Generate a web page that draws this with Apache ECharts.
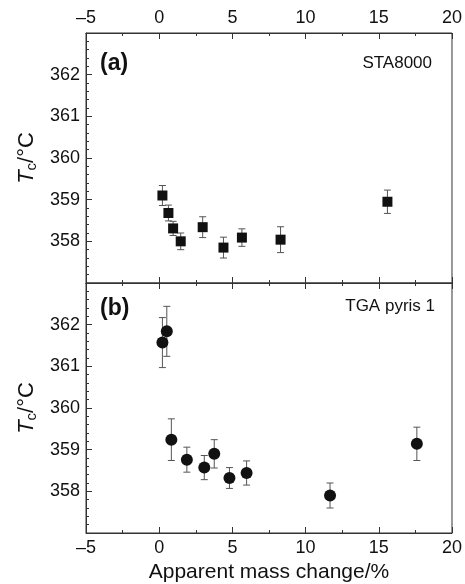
<!DOCTYPE html>
<html>
<head>
<meta charset="utf-8">
<style>
    html, body { margin: 0; padding: 0; background: #fff; }
    #chart { width: 465px; height: 584px; }
</style>
<script src="https://cdn.jsdelivr.net/npm/echarts@6/dist/echarts.min.js"></script>
</head>
<body>
<div id="chart"></div>
<script>
    // (a) STA8000
    var aMass = [0.22, 0.63, 0.95, 1.47, 2.97, 4.39, 5.65, 8.29, 15.59];
    var aTc = [359.10, 358.68, 358.31, 358.00, 358.34, 357.85, 358.09, 358.04, 358.95];
    var aErr = [0.24, 0.19, 0.17, 0.20, 0.25, 0.25, 0.21, 0.31, 0.28];
    // (b) TGA pyris 1
    var bMass = [0.22, 0.52, 0.83, 1.89, 3.08, 3.76, 4.80, 5.97, 11.67, 17.60];
    var bTc = [361.57, 361.84, 359.24, 358.76, 358.57, 358.90, 358.32, 358.44, 357.90, 359.14];
    var bErr = [0.60, 0.60, 0.50, 0.30, 0.29, 0.34, 0.25, 0.29, 0.30, 0.40];

    var xTicks = [-5, 0, 5, 10, 15, 20];
    var yTicks = [358, 359, 360, 361, 362];

    var font = 'Liberation Sans, Arial, sans-serif';
    var frame = '#333';

    function pts(xs, ys, es) {
        return xs.map(function (x, i) { return [x, ys[i], es ? es[i] : 0]; });
    }

    // 误差棒
    function errorBar(params, api) {
        var x = api.value(0), y = api.value(1), e = api.value(2);
        var hi = api.coord([x, y + e]);
        var lo = api.coord([x, y - e]);
        var w = 3.5;
        var st = { stroke: '#555', lineWidth: 1 };
        return {
            type: 'group',
            children: [
                { type: 'line', shape: { x1: hi[0], y1: hi[1], x2: lo[0], y2: lo[1] }, style: st },
                { type: 'line', shape: { x1: hi[0] - w, y1: hi[1], x2: hi[0] + w, y2: hi[1] }, style: st },
                { type: 'line', shape: { x1: lo[0] - w, y1: lo[1], x2: lo[0] + w, y2: lo[1] }, style: st }
            ]
        };
    }

    function xAxis(grid, pos, labels, name) {
        return {
            type: 'value', gridIndex: grid, position: pos,
            min: xTicks[0], max: xTicks[xTicks.length - 1], interval: 5,
            axisLine: { show: true, onZero: false, lineStyle: { color: frame, width: 1 } },
            axisTick: { show: true, inside: true, length: 6, lineStyle: { color: frame } },
            minorTick: { show: true, splitNumber: 2, length: 3, lineStyle: { color: frame } },
            splitLine: { show: false },
            axisLabel: {
                show: labels, margin: 6, color: '#111', fontSize: 18, fontFamily: font,
                formatter: function (v) { return String(v).replace('-', '\u2013'); }
            },
            name: name || '', nameLocation: 'middle', nameGap: 29,
            nameTextStyle: { color: '#111', fontSize: 21, fontFamily: font }
        };
    }

    function yAxis(grid) {
        return {
            type: 'value', gridIndex: grid, min: 357, max: 363, interval: 1,
            axisLine: { show: true, onZero: false, lineStyle: { color: frame, width: 1 } },
            axisTick: { show: true, inside: true, length: 6, lineStyle: { color: frame } },
            minorTick: { show: true, splitNumber: 5, length: 3, lineStyle: { color: frame } },
            splitLine: { show: false },
            axisLabel: {
                margin: 6, color: '#111', fontSize: 18, fontFamily: font,
                formatter: function (v) { return yTicks.indexOf(v) >= 0 ? v : ''; }
            },
            name: '{i|T}{s|c}{n|/°C}', nameLocation: 'middle', nameRotate: 90, nameGap: 46,
            nameTextStyle: {
                color: '#111', fontFamily: font,
                rich: {
                    i: { fontSize: 22, fontStyle: 'italic', fontFamily: font, color: '#111' },
                    s: { fontSize: 15, fontFamily: font, color: '#111', padding: [10, 0, 0, 0] },
                    n: { fontSize: 22, fontFamily: font, color: '#111' }
                }
            }
        };
    }

    var myEcharts = echarts.init(document.getElementById('chart'));
    myEcharts.setOption({
        animation: false,
        grid: [
            { left: 86, right: 9, top: 33, height: 250, show: true, borderColor: frame, borderWidth: 1 },
            { left: 86, right: 9, top: 283, height: 250, show: true, borderColor: frame, borderWidth: 1 }
        ],
        xAxis: [
            xAxis(0, 'top', true),
            xAxis(0, 'bottom', false),
            xAxis(1, 'top', false),
            xAxis(1, 'bottom', true, 'Apparent mass change/%')
        ],
        yAxis: [yAxis(0), yAxis(1)],
        graphic: [
            { type: 'text', left: 100, top: 52, style: { text: '(a)', font: 'bold 23px ' + font, fill: '#111' } },
            { type: 'text', right: 33, top: 55, style: { text: 'STA8000', font: '17px ' + font, fill: '#111' } },
            { type: 'text', left: 100, top: 297, style: { text: '(b)', font: 'bold 23px ' + font, fill: '#111' } },
            { type: 'text', right: 30, top: 298, style: { text: 'TGA pyris 1', font: '17px ' + font, fill: '#111' } }
        ],
        series: [
            {
                type: 'custom', xAxisIndex: 0, yAxisIndex: 0,
                data: pts(aMass, aTc, aErr), renderItem: errorBar, encode: { x: 0, y: 1 }, z: 1
            },
            {
                type: 'scatter', xAxisIndex: 0, yAxisIndex: 0,
                data: pts(aMass, aTc), symbol: 'rect', symbolSize: 10,
                itemStyle: { color: '#111', opacity: 1 }, z: 2
            },
            {
                type: 'custom', xAxisIndex: 3, yAxisIndex: 1,
                data: pts(bMass, bTc, bErr), renderItem: errorBar, encode: { x: 0, y: 1 }, z: 1
            },
            {
                type: 'scatter', xAxisIndex: 3, yAxisIndex: 1,
                data: pts(bMass, bTc), symbol: 'circle', symbolSize: 12,
                itemStyle: { color: '#111', opacity: 1 }, z: 2
            }
        ]
    });
</script>
</body>
</html>
